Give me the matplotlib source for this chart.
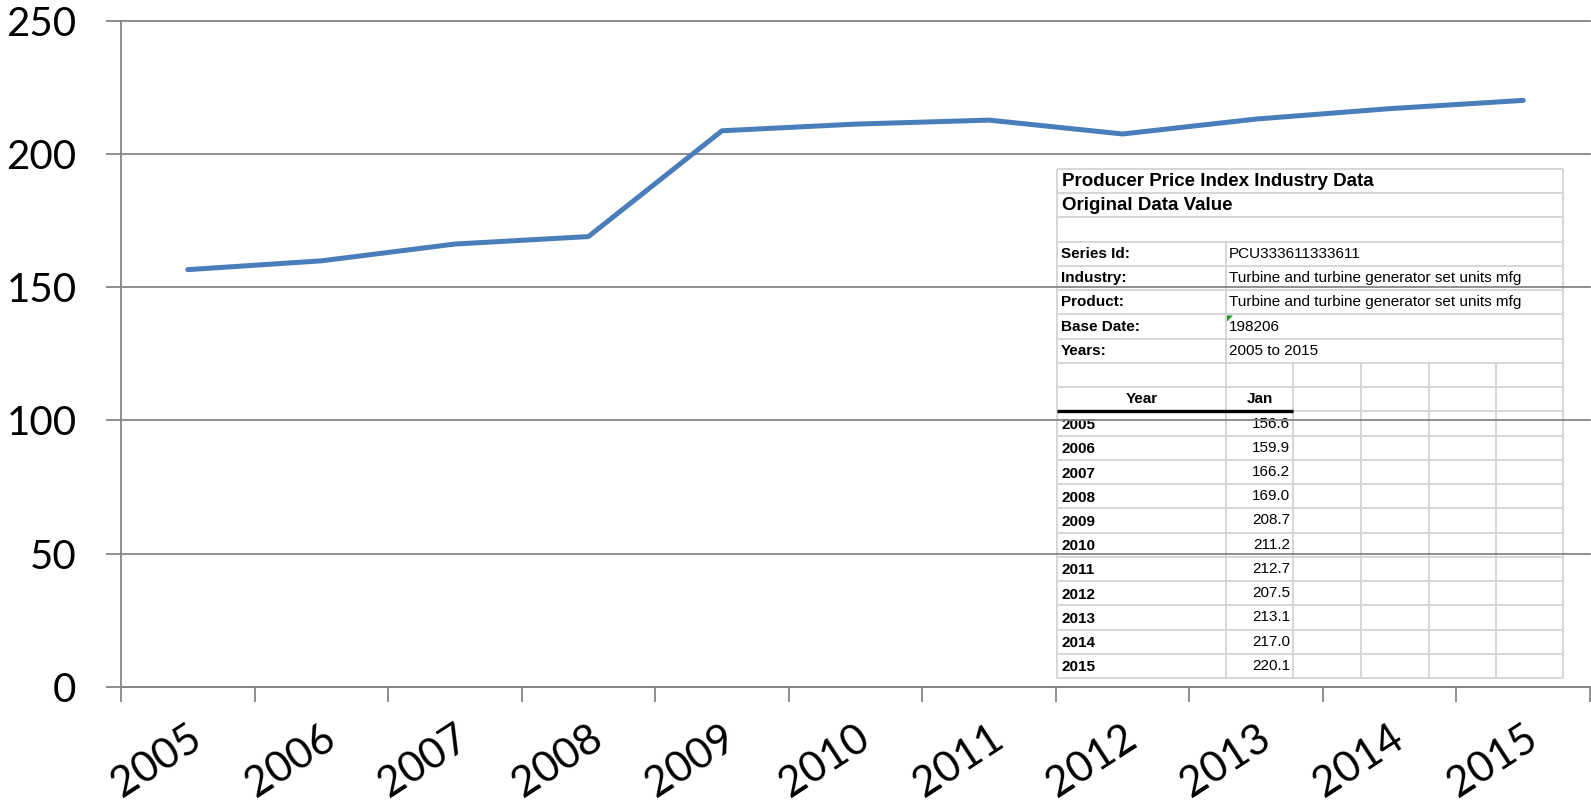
import matplotlib.pyplot as plt
from matplotlib.patches import Rectangle, Polygon
from matplotlib.transforms import Affine2D

years = ['2005', '2006', '2007', '2008', '2009', '2010',
         '2011', '2012', '2013', '2014', '2015']
jan_values = [156.6, 159.9, 166.2, 169.0, 208.7, 211.2,
              212.7, 207.5, 213.1, 217.0, 220.1]
y_ticks = [0, 50, 100, 150, 200, 250]

title_rows = ['Producer Price Index Industry Data', 'Original Data Value']
info_labels = ['Series Id:', 'Industry:', 'Product:', 'Base Date:', 'Years:']
info_values = ['PCU333611333611',
               'Turbine and turbine generator set units mfg',
               'Turbine and turbine generator set units mfg',
               '198206',
               '2005 to 2015']
header = ['Year', 'Jan']

W, H = 1591, 807
fig = plt.figure(figsize=(W / 100, H / 100), dpi=100)
ax = fig.add_axes([121 / W, 1 - 687 / H, 1469 / W, (687 - 20.7) / H])

grey = '#868686'
xs = [i + 0.5 for i in range(len(years))]
ax.plot(xs, jan_values, color='#4A7EBB', lw=3.6, solid_joinstyle='round',
        solid_capstyle='round', zorder=3)

ax.set_xlim(0, len(years))
ax.set_ylim(0, 250)
ax.set_yticks(y_ticks)
ax.set_yticklabels([str(v) for v in y_ticks], fontsize=29, family='Lato')
ax.set_xticks(range(len(years) + 1))
ax.set_xticklabels([])
ax.set_xticks(xs, years, minor=True)
for lab in ax.get_xticklabels(minor=True):
    lab.set_fontsize(30.5)
    lab.set_family('Lato')
    lab.set_rotation(33)
    lab.set_ha('right')
    lab.set_va('top')
    lab.set_rotation_mode('anchor')

ax.tick_params(axis='both', which='major', length=11, width=1.3, color=grey,
               direction='out')
ax.tick_params(axis='y', pad=21)
ax.tick_params(axis='x', which='minor', length=0, pad=23)
ax.yaxis.grid(True, color=grey, lw=1.3)
for gl in ax.get_ygridlines():
    gl.set_clip_on(False)
for side in ['top', 'right']:
    ax.spines[side].set_visible(False)
for side in ['left', 'bottom']:
    ax.spines[side].set_color(grey)
    ax.spines[side].set_linewidth(1.3)

# pasted spreadsheet block, in pixel coords (y down)
px = Affine2D().scale(1 / W, -1 / H).translate(0, 1) + fig.transFigure
cols = [1057, 1226, 1293, 1361, 1429, 1496, 1563]
top = 169
row_h = 24.24
n_rows = 21
bottom = top + n_rows * row_h
cell_grey = '#D6D6D6'


def row_y(r):
    return top + r * row_h


def hline(y, x0, x1, color=cell_grey, lw=1.4):
    ax.plot([x0, x1], [y, y], color=color, lw=lw, transform=px,
            clip_on=False, zorder=1.1, solid_capstyle='butt')


def vline(x, y0, y1):
    ax.plot([x, x], [y0, y1], color=cell_grey, lw=1.4, transform=px,
            clip_on=False, zorder=1.1, solid_capstyle='butt')


def cell_text(x, r, s, bold=False, size=11, ha='left', dy=0):
    ax.text(x, row_y(r) + row_h / 2 + dy, s, transform=px, ha=ha, va='center',
            fontsize=size, family='Liberation Sans',
            fontweight='bold' if bold else 'normal', zorder=1.2, clip_on=False)


ax.add_patch(Rectangle((cols[0], top), cols[-1] - cols[0], bottom - top,
                       transform=px, facecolor='white', edgecolor='none',
                       zorder=1, clip_on=False))
for r in range(n_rows + 1):
    hline(row_y(r), cols[0], cols[-1])
vline(cols[0], top, bottom)
vline(cols[-1], top, bottom)
vline(cols[1], row_y(3), bottom)
for c in cols[2:-1]:
    vline(c, row_y(8), bottom)
hline(row_y(10), cols[0], cols[2], color='black', lw=2.4)

for i, s in enumerate(title_rows):
    cell_text(1062, i, s, bold=True, size=13.5)
for i, (lab, val) in enumerate(zip(info_labels, info_values)):
    cell_text(1061, 3 + i, lab, bold=True)
    cell_text(1229, 3 + i, val)
cell_text((cols[0] + cols[1]) / 2, 9, header[0], bold=True, ha='center')
cell_text((cols[1] + cols[2]) / 2, 9, header[1], bold=True, ha='center')
for i, (yr, v) in enumerate(zip(years, jan_values)):
    cell_text(1061, 10 + i, yr, bold=True, dy=1.5)
    cell_text(1290, 10 + i, f'{v:.1f}', ha='right')

# little green comment marker on the base date cell
bx, by = cols[1] + 1, row_y(6) + 1
ax.add_patch(Polygon([(bx, by), (bx + 6, by), (bx, by + 6)], closed=True,
                     transform=px, facecolor='#1E9A1E', edgecolor='none',
                     zorder=1.2, clip_on=False))

fig.savefig('out.png', dpi=100)
